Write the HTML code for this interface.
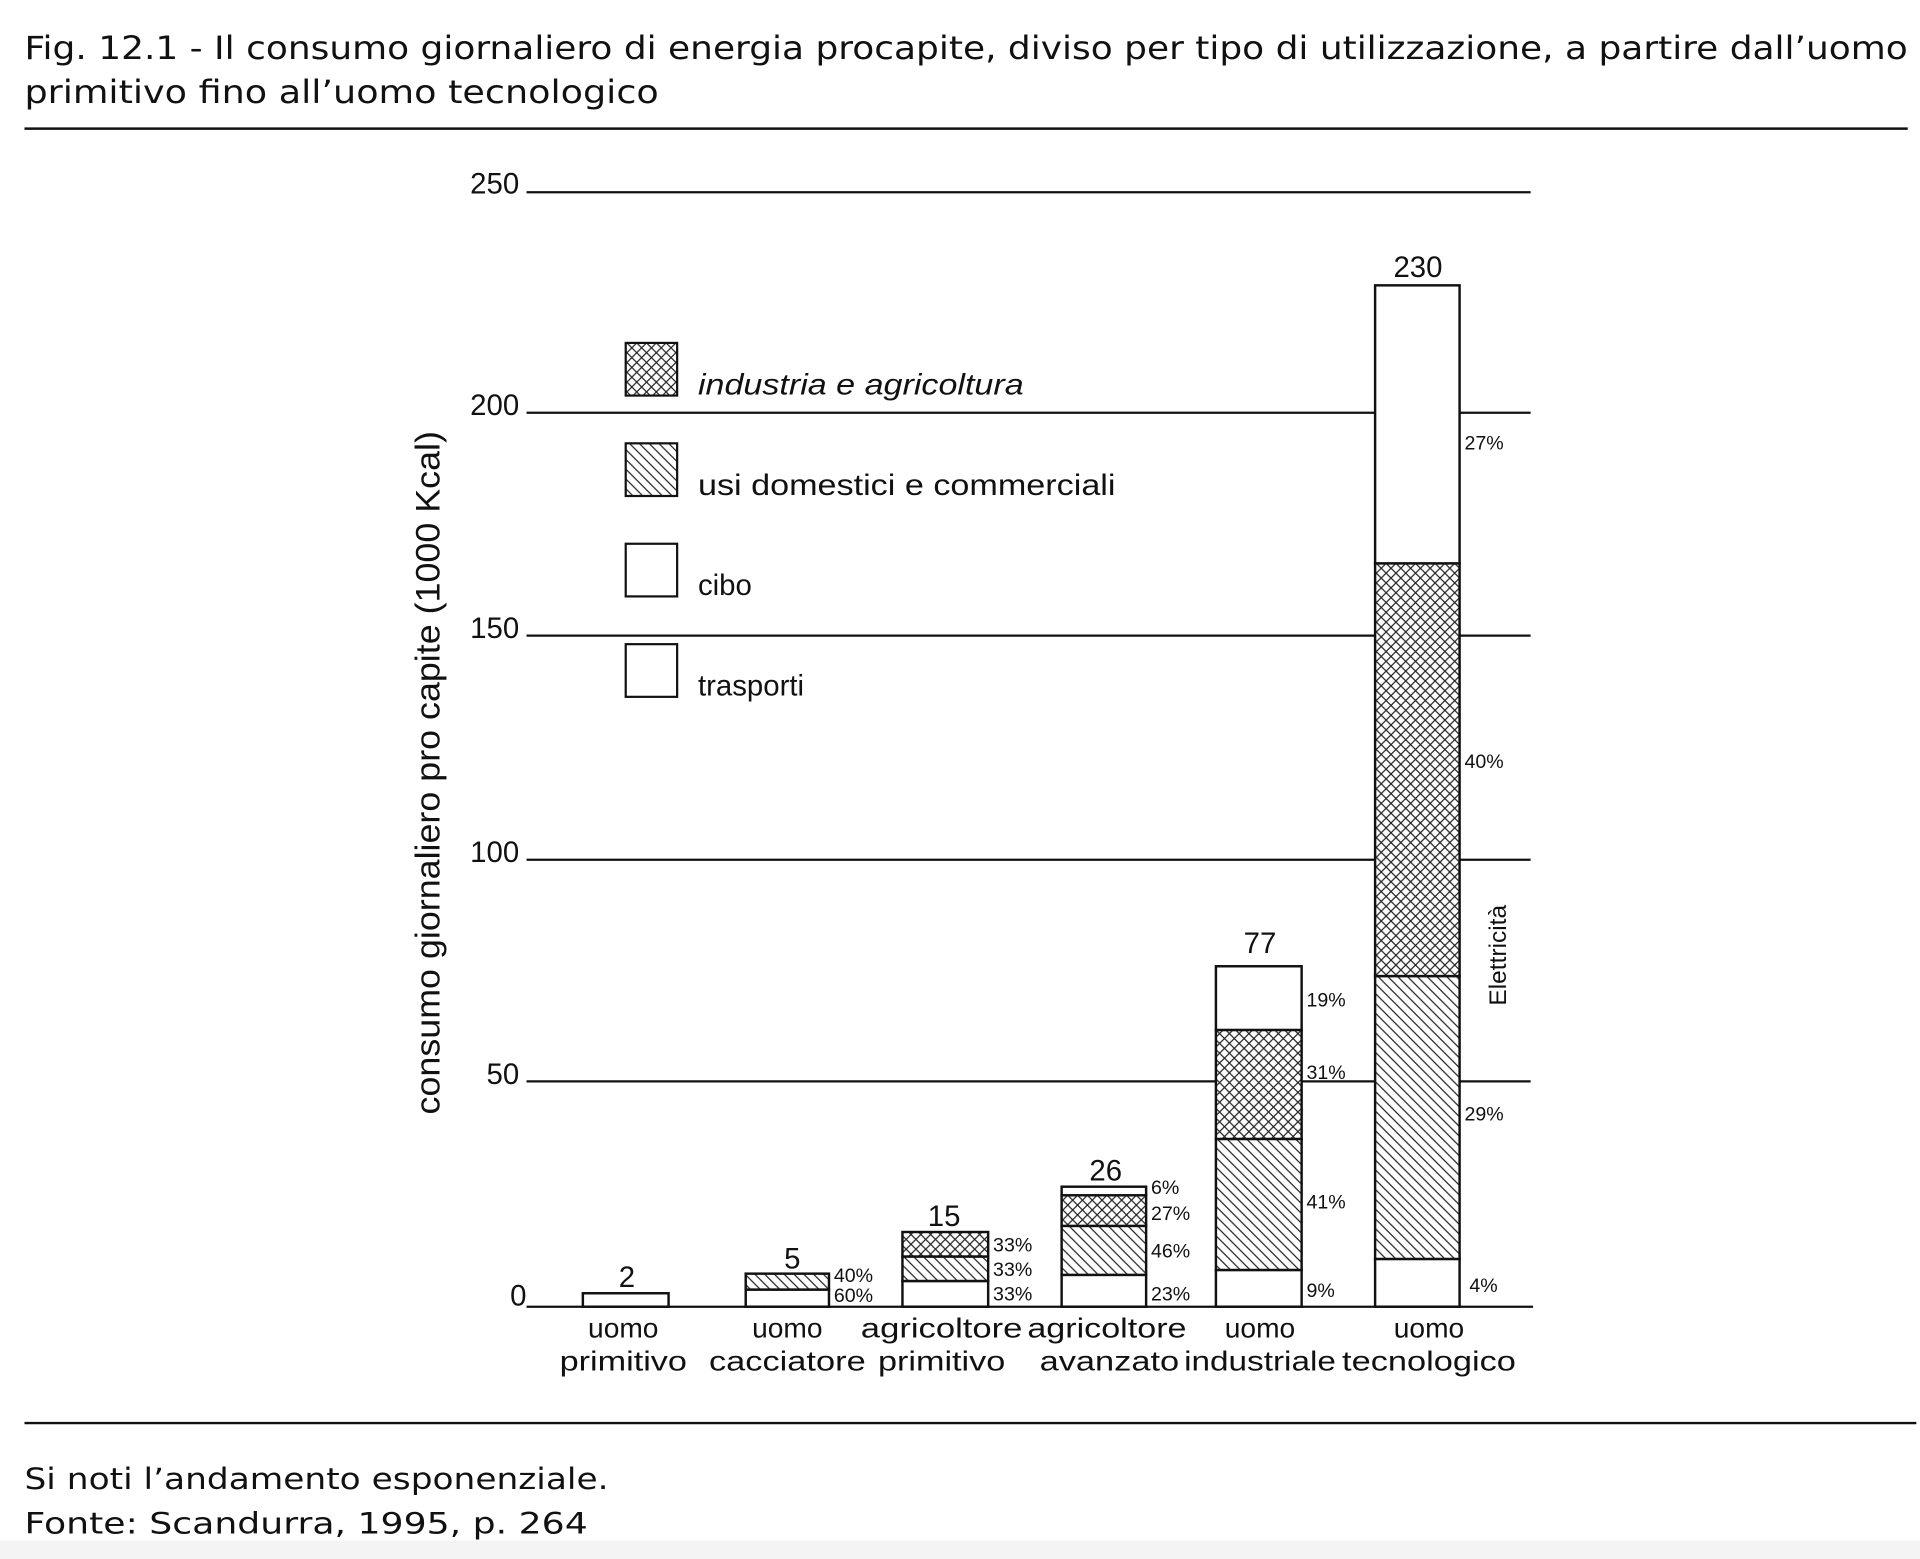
<!DOCTYPE html>
<html><head><meta charset="utf-8"><style>
html,body{margin:0;padding:0;background:#fff;}
svg{display:block;}
text{font-family:"Liberation Sans",sans-serif;fill:#111;}
.t{font-family:"DejaVu Sans","Liberation Sans",sans-serif;}
</style></head><body>
<svg width="1920" height="1559" viewBox="0 0 1568 1273" preserveAspectRatio="none" xmlns="http://www.w3.org/2000/svg">
<defs>
<pattern id="d" width="8" height="8" patternUnits="userSpaceOnUse">
<rect width="8" height="8" fill="#fff"/>
<path d="M-2,-2 L10,10 M-2,6 L2,10 M6,-2 L10,2" stroke="#222" stroke-width="1"/>
</pattern>
<pattern id="x" width="8" height="8" patternUnits="userSpaceOnUse">
<rect width="8" height="8" fill="#fff"/>
<path d="M-2,-2 L10,10 M-2,6 L2,10 M6,-2 L10,2 M-2,10 L10,-2 M-2,2 L2,-2 M6,10 L10,6" stroke="#222" stroke-width="1"/>
</pattern>
</defs>
<rect x="0" y="1258" width="1568" height="15" fill="#f4f4f4"/>
<text class="t" x="20" y="48" font-size="26" textLength="1538" lengthAdjust="spacingAndGlyphs">Fig. 12.1 - Il consumo giornaliero di energia procapite, diviso per tipo di utilizzazione, a partire dall’uomo</text>
<text class="t" x="20" y="84" font-size="26" textLength="518" lengthAdjust="spacingAndGlyphs">primitivo fino all’uomo tecnologico</text>
<line x1="20" y1="105" x2="1558" y2="105" stroke="#111" stroke-width="2"/>
<line x1="20" y1="1162" x2="1565" y2="1162" stroke="#111" stroke-width="2"/>
<text class="t" x="20" y="1216" font-size="24" textLength="477" lengthAdjust="spacingAndGlyphs">Si noti l’andamento esponenziale.</text>
<text class="t" x="20" y="1252" font-size="24" textLength="460" lengthAdjust="spacingAndGlyphs">Fonte: Scandurra, 1995, p. 264</text>

<g stroke="#111" stroke-width="1.8">
<line x1="430" y1="157" x2="1250" y2="157"/>
<line x1="430" y1="337" x2="1250" y2="337"/>
<line x1="430" y1="519" x2="1250" y2="519"/>
<line x1="430" y1="702" x2="1250" y2="702"/>
<line x1="430" y1="883" x2="1250" y2="883"/>
<line x1="430" y1="1067" x2="1252" y2="1067"/>
</g>
<g font-size="24" text-anchor="end">
<text x="424" y="158">250</text><text x="424" y="339">200</text><text x="424" y="521">150</text>
<text x="424" y="704">100</text><text x="424" y="885">50</text><text x="430" y="1066">0</text>
</g>
<text x="0" y="0" font-size="28" text-anchor="middle" textLength="558" lengthAdjust="spacingAndGlyphs" transform="translate(359,631) rotate(-90)">consumo giornaliero pro capite (1000 Kcal)</text>

<g stroke="#111" stroke-width="1.8">
<rect x="511" y="280" width="42" height="43" fill="url(#x)"/>
<rect x="511" y="362" width="42" height="43" fill="url(#d)"/>
<rect x="511" y="444" width="42" height="43" fill="#fff"/>
<rect x="511" y="526" width="42" height="43" fill="#fff"/>
</g>
<g font-size="24">
<text x="570" y="322" font-style="italic" textLength="266" lengthAdjust="spacingAndGlyphs">industria e agricoltura</text>
<text x="570" y="404" textLength="341" lengthAdjust="spacingAndGlyphs">usi domestici e commerciali</text>
<text x="570" y="486">cibo</text>
<text x="570" y="568">trasporti</text>
</g>

<g stroke="#111" stroke-width="2">
<rect x="476" y="1056" width="70" height="11" fill="#fff"/>
<rect x="609" y="1053" width="68" height="14" fill="#fff"/>
<rect x="609" y="1040" width="68" height="13" fill="url(#d)"/>
<rect x="737" y="1046" width="70" height="21" fill="#fff"/>
<rect x="737" y="1026" width="70" height="20" fill="url(#d)"/>
<rect x="737" y="1006" width="70" height="20" fill="url(#x)"/>
<rect x="867" y="1041" width="69" height="26" fill="#fff"/>
<rect x="867" y="1001" width="69" height="40" fill="url(#d)"/>
<rect x="867" y="976" width="69" height="25" fill="url(#x)"/>
<rect x="867" y="969" width="69" height="7" fill="#fff"/>
<rect x="993" y="1037" width="70" height="30" fill="#fff"/>
<rect x="993" y="930" width="70" height="107" fill="url(#d)"/>
<rect x="993" y="841" width="70" height="89" fill="url(#x)"/>
<rect x="993" y="789" width="70" height="52" fill="#fff"/>
<rect x="1123" y="1028" width="69" height="39" fill="#fff"/>
<rect x="1123" y="797" width="69" height="231" fill="url(#d)"/>
<rect x="1123" y="460" width="69" height="337" fill="url(#x)"/>
<rect x="1123" y="233" width="69" height="227" fill="#fff"/>
</g>
<g font-size="24" text-anchor="middle">
<text x="512" y="1051">2</text><text x="647" y="1036">5</text><text x="771" y="1001">15</text>
<text x="903" y="964">26</text><text x="1029" y="778">77</text><text x="1158" y="226">230</text>
</g>
<g font-size="16">
<text x="681" y="1047">40%</text><text x="681" y="1063">60%</text>
<text x="811" y="1022">33%</text><text x="811" y="1042">33%</text><text x="811" y="1062">33%</text>
<text x="940" y="975">6%</text><text x="940" y="996">27%</text><text x="940" y="1027">46%</text><text x="940" y="1062">23%</text>
<text x="1067" y="822">19%</text><text x="1067" y="881">31%</text><text x="1067" y="987">41%</text><text x="1067" y="1059">9%</text>
<text x="1196" y="367">27%</text><text x="1196" y="627">40%</text><text x="1196" y="915">29%</text><text x="1200" y="1055">4%</text>
</g>
<text x="0" y="0" font-size="20" text-anchor="middle" transform="translate(1230,780) rotate(-90)">Elettricità</text>
<g font-size="23" text-anchor="middle">
<text x="509" y="1092">uomo</text><text x="509" y="1119" textLength="104" lengthAdjust="spacingAndGlyphs">primitivo</text>
<text x="643" y="1092">uomo</text><text x="643" y="1119" textLength="128" lengthAdjust="spacingAndGlyphs">cacciatore</text>
<text x="769" y="1092" textLength="132" lengthAdjust="spacingAndGlyphs">agricoltore</text><text x="769" y="1119" textLength="104" lengthAdjust="spacingAndGlyphs">primitivo</text>
<text x="904" y="1092" textLength="130" lengthAdjust="spacingAndGlyphs">agricoltore</text><text x="906" y="1119" textLength="114" lengthAdjust="spacingAndGlyphs">avanzato</text>
<text x="1029" y="1092">uomo</text><text x="1029" y="1119" textLength="124" lengthAdjust="spacingAndGlyphs">industriale</text>
<text x="1167" y="1092">uomo</text><text x="1167" y="1119" textLength="142" lengthAdjust="spacingAndGlyphs">tecnologico</text>
</g>
</svg>
</body></html>
